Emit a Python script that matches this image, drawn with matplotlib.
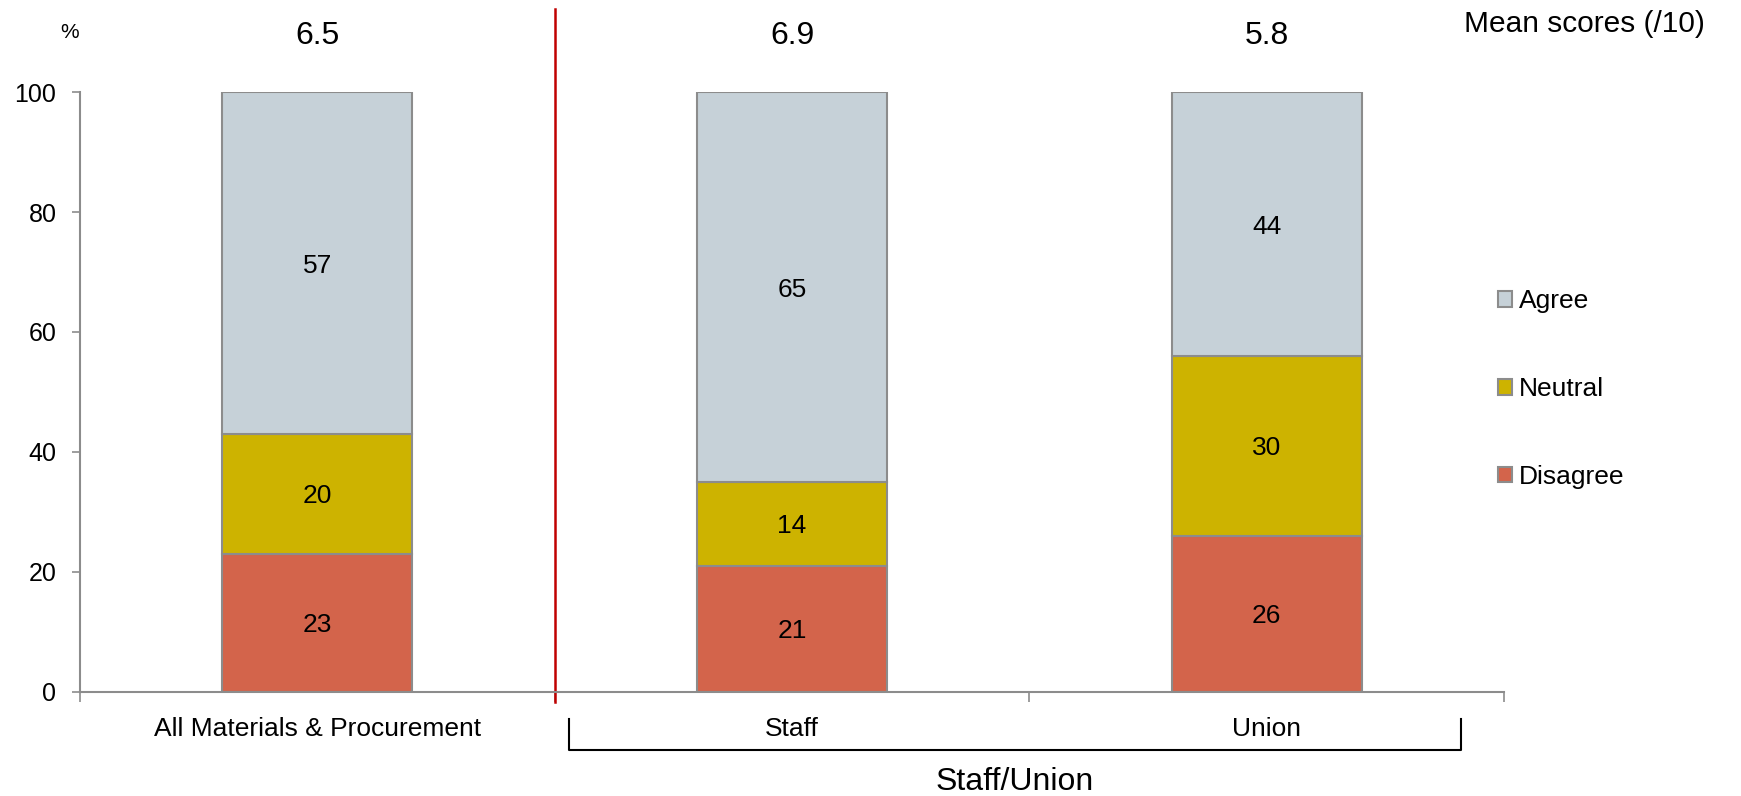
import numpy as np
import matplotlib
matplotlib.use('Agg')
from matplotlib import pyplot as plt

plt.rcParams['font.family'] = ['Liberation Sans', 'DejaVu Sans']

# data
categories = ['All Materials & Procurement', 'Staff', 'Union']
disagree = [23, 21, 26]
neutral = [20, 14, 30]
agree = [57, 65, 44]
meanScores = ['6.5', '6.9', '5.8']
groupLabel = 'Staff/Union'

colAgree = '#C6D1D8'
colNeutral = '#CDB300'
colDisagree = '#D3644B'
edgeCol = '#8C8C8C'
axisCol = '#8C8C8C'

fig = plt.figure(figsize=[17.41, 7.96], dpi=100)
ax = fig.add_axes([0.046, 0.131, 0.8179, 0.7532])

x = np.arange(len(categories))
width = 0.4
bottoms = np.zeros(len(categories))
bars = {}
for name, vals, col in [('Disagree', disagree, colDisagree),
                        ('Neutral', neutral, colNeutral),
                        ('Agree', agree, colAgree)]:
    bars[name] = ax.bar(x, vals, width, bottom=bottoms, color=col,
                        edgecolor=edgeCol, linewidth=1.5, label=name, zorder=2)
    for xi, v, b in zip(x, vals, bottoms):
        ax.text(xi, b + v / 2, str(v), ha='center', va='center_baseline', fontsize=19, zorder=3)
    bottoms = bottoms + np.array(vals)

ax.set_xlim(-0.5, 2.5)
ax.set_ylim(0, 100)
ax.set_yticks([0, 20, 40, 60, 80, 100])
ax.tick_params(axis='y', labelsize=18, colors=axisCol, labelcolor='black',
               length=6, width=1.2, pad=11)

# x ticks on the category boundaries, labels as minor ticks
ax.set_xticks([-0.5, 0.5, 1.5, 2.5])
ax.set_xticklabels([])
ax.tick_params(axis='x', which='major', colors=axisCol, length=7, width=1.2)
ax.set_xticks(x, minor=True)
ax.set_xticklabels(categories, minor=True, fontsize=19)
ax.tick_params(axis='x', which='minor', length=0, pad=18)

for s in ['top', 'right']:
    ax.spines[s].set_visible(False)
for s in ['left', 'bottom']:
    ax.spines[s].set_color(axisCol)
    ax.spines[s].set_linewidth(1.5)

# red separator
trans = ax.get_xaxis_transform()
ax.plot([0.5, 0.5], [-0.017, 1.139], color='#C00000', lw=1.8, transform=trans, clip_on=False)

# mean scores on top
for xi, m in zip(x, meanScores):
    ax.text(xi, 1.094, m, ha='center', va='center', fontsize=23, transform=trans)
fig.text(0.979, 1 - 24.4 / 796, 'Mean scores (/10)', ha='right', va='center', fontsize=21.5)
fig.text(0.040, 1 - 33 / 796, '%', ha='center', va='center', fontsize=15)

# bracket under Staff / Union
bx0, bx1 = 0.53, 2.409
ax.plot([bx0, bx0, bx1, bx1], [-0.046, -0.098, -0.098, -0.046], color='black', lw=1.5,
        transform=trans, clip_on=False, solid_joinstyle='round')
ax.text((bx0 + bx1) / 2, -0.150, groupLabel, ha='center', va='center', fontsize=23, transform=trans)

# legend
handles = [bars['Agree'], bars['Neutral'], bars['Disagree']]
leg = fig.legend(handles, ['Agree', 'Neutral', 'Disagree'], loc='center left',
                 bbox_to_anchor=(0.8604, 1 - 389 / 796), frameon=False, fontsize=19,
                 handlelength=0.55, handleheight=0.55, handletextpad=0.25,
                 labelspacing=2.42, borderpad=0, borderaxespad=0)

plt.savefig('out.png', dpi=100)
